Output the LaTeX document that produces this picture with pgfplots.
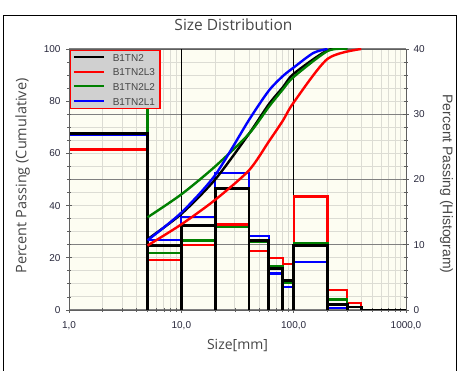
\documentclass[border=0pt]{standalone}
\usepackage{pgfplots}
\pgfplotsset{compat=1.18}
\usepackage{fontspec}
\setmainfont{Liberation Sans}
\newfontfamily\labelfont{Open Sans}

\definecolor{plotbg}{RGB}{253,253,242}
\definecolor{gridlight}{RGB}{220,220,212}
\definecolor{gridmajor}{RGB}{128,128,128}
\definecolor{legendfill}{RGB}{208,208,208}
\definecolor{axisgray}{RGB}{95,95,95}
\definecolor{labelgray}{RGB}{70,70,70}
\definecolor{tickgray}{RGB}{40,40,60}
\definecolor{cgreen}{RGB}{0,128,0}

\pgfplotsset{
  sizeaxis/.style={
    scale only axis, width=337pt, height=261pt,
    at={(69pt,61pt)}, anchor=south west,
    xmin=1, xmax=1000,
    tick align=center,
    major tick length=6pt, minor tick length=3.5pt,
    every tick/.style={axisgray, line width=0.8pt},
    axis line style={axisgray, line width=0.9pt},
    tick label style={font=\fontsize{10}{12}\selectfont, text=tickgray},
    /pgf/number format/assume math mode=true,
  },
  histline/.style={line width=2.2pt, line join=miter},
  cumline/.style={line width=2.4pt, smooth, tension=0.45},
}

\begin{document}
\begin{tikzpicture}
\useasboundingbox (0,0) rectangle (460pt,371pt);
\draw[line width=1pt] (3.8pt,-2pt) |- (456.8pt,355.5pt) -- (456.8pt,-2pt);

% Histogram (right scale, 0-40 %)
\begin{semilogxaxis}[sizeaxis,
  axis background/.style={fill=plotbg},
  ymin=0, ymax=40,
  ytick={0,10,20,30,40},
  minor ytick={2,4,6,8,12,14,16,18,22,24,26,28,32,34,36,38},
  ytick pos=right, yticklabel pos=right,
  yticklabel style={xshift=1pt},
  xtick={1,10,100,1000},
  xticklabels={{1,0},{10,0},{100,0},{1000,0}},
  minor xtick={2,3,4,5,6,7,8,9,20,30,40,50,60,70,80,90,200,300,400,500,600,700,800,900},
  xtick pos=left,
  xticklabel style={yshift=-5pt},
  xminorgrids, ymajorgrids, yminorgrids,
  major y grid style={gridmajor, line width=1.4pt},
  minor grid style={gridlight, line width=0.9pt},
  extra x ticks={10,100},
  extra x tick labels={},
  extra x tick style={grid=major, major grid style={black, line width=0.8pt}},
]
\addplot[histline, red] coordinates {
  (1,24.6) (5,24.6) (5,0) (5,7.7) (10,7.7) (10,0) (10,10.0) (20,10.0) (20,0)
  (20,13.1) (40,13.1) (40,0) (40,9.0) (60,9.0) (60,0) (60,8.0) (80,8.0) (80,0)
  (80,7.0) (100,7.0) (100,0) (100,17.4) (200,17.4) (200,0) (200,3.05) (300,3.05)
  (300,0) (300,1.1) (400,1.1) (400,0)};
\addplot[histline, cgreen] coordinates {
  (1,35.5) (5,35.5) (5,0) (5,8.7) (10,8.7) (10,0) (10,10.65) (20,10.65) (20,0)
  (20,12.7) (40,12.7) (40,0) (40,10.4) (60,10.4) (60,0) (60,6.7) (80,6.7) (80,0)
  (80,4.1) (100,4.1) (100,0) (100,10.3) (200,10.3) (200,0) (200,1.6) (300,1.6)
  (300,0)};
\addplot[histline, blue] coordinates {
  (1,26.8) (5,26.8) (5,0) (5,10.7) (10,10.7) (10,0) (10,14.3) (20,14.3) (20,0)
  (20,21.0) (40,21.0) (40,0) (40,11.3) (60,11.3) (60,0) (60,5.6) (80,5.6) (80,0)
  (80,3.56) (100,3.56) (100,0) (100,7.3) (200,7.3) (200,0) (200,0.35) (300,0.35)
  (300,0)};
\addplot[histline, black, line width=2.8pt] coordinates {
  (1,27.1) (5,27.1) (5,0) (5,9.9) (10,9.9) (10,0) (10,12.9) (20,12.9) (20,0)
  (20,18.6) (40,18.6) (40,0) (40,10.7) (60,10.7) (60,0) (60,6.3) (80,6.3) (80,0)
  (80,4.5) (100,4.5) (100,0) (100,9.9) (200,9.9) (200,0) (200,0.9) (300,0.9)
  (300,0) (300,0.45) (400,0.45) (400,0) (1000,0)};
\end{semilogxaxis}

% Cumulative curves (left scale, 0-100 %)
\begin{semilogxaxis}[sizeaxis,
  axis x line=none, axis y line*=left,
  ymin=0, ymax=100,
  ytick={0,20,40,60,80,100}, minor y tick num=3,
  ytick pos=left,
  yticklabel style={xshift=-2pt},
  legend cell align=left,
  legend image code/.code={
    \path[draw=none] (-1pt,0pt) rectangle (36pt,1.2pt);
    \draw[#1, line width=2.2pt] (0pt,0.6pt) -- (30pt,0.6pt);},
  legend style={at={(rel axis cs:0.003,0.997)}, anchor=north west,
    fill=legendfill, draw=red, line width=1.3pt,
    font=\fontsize{10}{12}\selectfont, text=labelgray,
    inner xsep=2pt, inner ysep=0pt, row sep=0pt,
    nodes={inner xsep=3pt, inner ysep=0pt, text height=10.9pt, text depth=3.7pt}},
]
\addplot[cumline, black] coordinates {
  (5,27.1) (10,36.8) (20,50.0) (40,67.5) (60,78.8) (80,85.3) (100,90.5)
  (200,99.5) (300,100)};
\addlegendentry{B1TN2}
\addplot[cumline, red] coordinates {
  (5,24.7) (10,32.8) (20,42.2) (40,53.5) (60,64.5) (80,72.5) (100,79.5)
  (200,96.2) (400,100)};
\addlegendentry{B1TN2L3}
\addplot[cumline, cgreen] coordinates {
  (5,35.5) (10,44.3) (20,55.0) (40,67.5) (60,77.8) (80,84.5) (100,89.3)
  (200,99.2) (300,100)};
\addlegendentry{B1TN2L2}
\addplot[cumline, blue] coordinates {
  (5,26.7) (10,37.3) (20,51.7) (40,72.8) (60,84.0) (80,89.6) (100,92.9)
  (150,98.5) (200,100)};
\addlegendentry{B1TN2L1}
\end{semilogxaxis}

\node[font=\labelfont\fontsize{15.5}{18}\selectfont, text=labelgray, anchor=base]
  at (233.5pt,340pt) {Size Distribution};
\node[font=\labelfont\fontsize{14}{16}\selectfont, text=labelgray, anchor=base]
  at (237.5pt,21pt) {Size[mm]};
\node[font=\labelfont\fontsize{14.5}{16}\selectfont, text=labelgray, rotate=90]
  at (22.5pt,195pt) {Percent Passing (Cumulative)};
\node[font=\fontsize{14}{16}\selectfont, text=labelgray, rotate=-90]
  at (446.5pt,187pt) {Percent Passing (Histogram)};
\end{tikzpicture}
\end{document}
